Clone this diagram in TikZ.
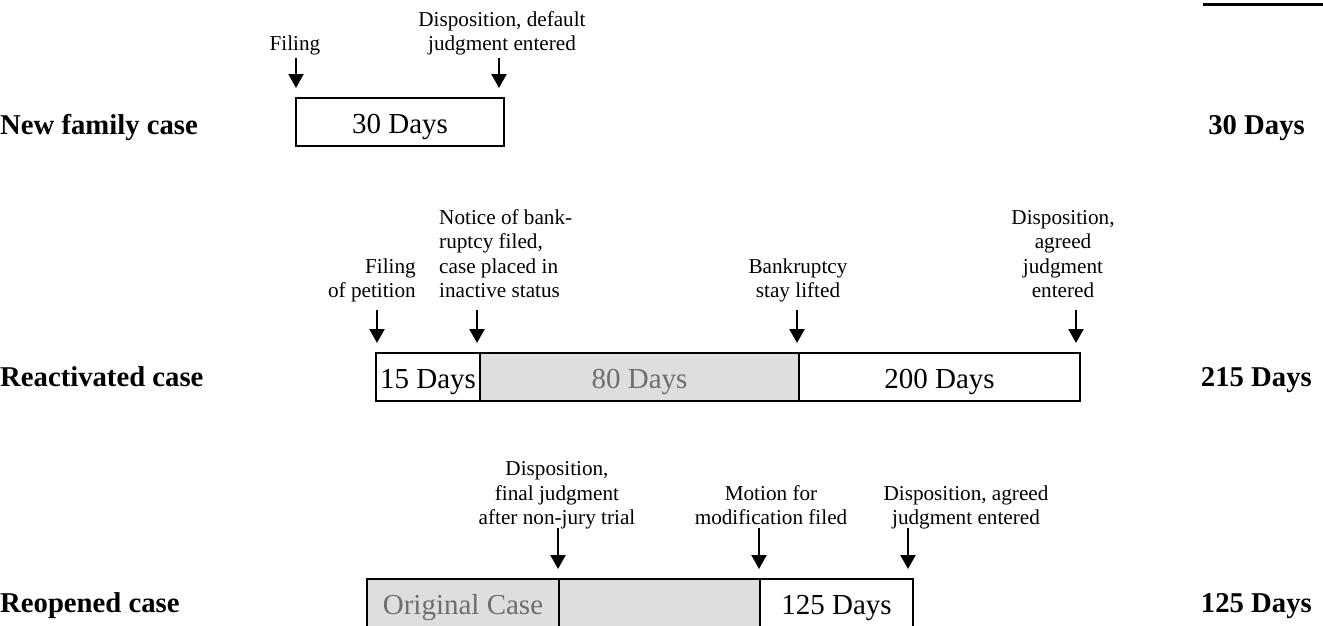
\documentclass[tikz,border=0pt]{standalone}
\usepackage{fontspec}
\setmainfont{Liberation Serif}
\usepackage{xcolor}
\usetikzlibrary{positioning,arrows.meta,calc}
\definecolor{shade}{HTML}{DEDEDE}
\definecolor{dimtext}{HTML}{6E6E6E}

\begin{document}
\begin{tikzpicture}[x=1pt, y=-1pt, >={Triangle[width=15pt,length=14pt]},
    seg/.style={draw, line width=2pt, minimum height=48pt, inner sep=0pt, text height=23pt, text depth=0pt, anchor=north west, font=\fontsize{29}{33}\selectfont},
    past/.style={seg, fill=shade, text=dimtext},
    note/.style={align=center, inner sep=0pt, text depth=5pt, anchor=south, font=\fontsize{21.2}{24.5}\selectfont},
    row/.style={inner sep=0pt, anchor=base west, font=\fontsize{28.7}{33}\selectfont\bfseries},
    total/.style={row, anchor=base east},
    tick/.style={->, line width=2.2pt, shorten >=9pt}]
    \useasboundingbox (0,0) rectangle (1323,625);
    \draw[line width=3pt] (1203,4) -- (1323,4);

    % new family case
    \node[row] (new) at (0,134) {New family case};
    \node[total] (newtot) at (1305,134) {30 Days};
    \node[seg, minimum width=208pt] (n1) at (295,97) {30 Days};
    \node[note] (nfil) at (295,56) {Filing};
    \node[note] (ndisp) at (502,56) {Disposition, default\\judgment entered};
    \coordinate (na) at (296,58);
    \coordinate (nb) at (499,58);
    \draw[tick] (na) -- (na |- n1.north);
    \draw[tick] (nb) -- (nb |- n1.north);

    % reactivated case
    \node[row] (react) at (0,386) {Reactivated case};
    \node[total] (reacttot) at (1312,386) {215 Days};
    \node[seg, minimum width=104pt] (r1) at (375,352) {15 Days};
    \node[past, minimum width=319pt] (r2) at (479,352) {80 Days};
    \node[seg, minimum width=281pt] (r3) at (798,352) {200 Days};
    \node[note, align=right, anchor=south east] (rfil) at (416,303) {Filing\\of petition};
    \node[note, align=left, anchor=south west] (rbank) at (439,303) {Notice of bank-\\ruptcy filed,\\case placed in\\inactive status};
    \node[note] (rlift) at (798,303) {Bankruptcy\\stay lifted};
    \node[note] (rdisp) at (1063,303) {Disposition,\\agreed\\judgment\\entered};
    \coordinate (ra) at (377,310);
    \coordinate (rb) at (477,310);
    \coordinate (rc) at (797,310);
    \coordinate (rd) at (1076,310);
    \foreach \c in {ra,rb,rc,rd}
        \draw[tick] (\c) -- (\c |- r1.north);

    % reopened case
    \node[row] (reop) at (0,612) {Reopened case};
    \node[total] (reoptot) at (1312,612) {125 Days};
    \node[past, minimum width=192pt] (o1) at (366,578) {Original Case};
    \node[past, minimum width=201pt] (o2) at (558,578) {};
    \node[seg, minimum width=153pt] (o3) at (759,578) {125 Days};
    \node[note] (ofinal) at (557,530) {Disposition,\\final judgment\\after non-jury trial};
    \node[note] (omot) at (771,530) {Motion for\\modification filed};
    \node[note] (odisp) at (966,530) {Disposition, agreed\\judgment entered};
    \coordinate (oa) at (558,528);
    \coordinate (ob) at (759,528);
    \coordinate (oc) at (908,528);
    \foreach \c in {oa,ob,oc}
        \draw[tick] (\c) -- (\c |- o1.north);
\end{tikzpicture}
\end{document}
